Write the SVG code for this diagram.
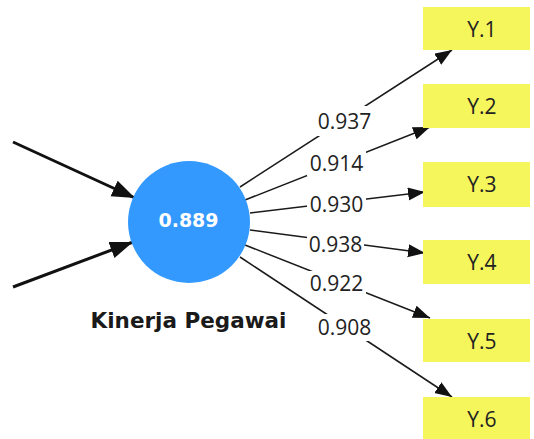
<svg xmlns="http://www.w3.org/2000/svg" width="534" height="439" viewBox="0 0 534 439">
  <style>
    .ind rect { fill: #f5f55c; }
    .ind text { font-family: "Open Sans", "Noto Sans", sans-serif; font-size: 21px; fill: #222; text-anchor: middle; }
    .load rect { fill: #ffffff; }
    .load text { font-family: "Open Sans", "Noto Sans", sans-serif; font-size: 21px; fill: #222; text-anchor: middle; }
    .out { stroke: #1a1a1a; stroke-width: 1.5; fill: none; marker-end: url(#headS); }
    .in { stroke: #111; stroke-width: 3; fill: none; marker-end: url(#headL); }
  </style>
  <defs>
    <marker id="headS" markerUnits="userSpaceOnUse" markerWidth="18" markerHeight="14" refX="17" refY="6.5" orient="auto">
      <path d="M0,0 L17,6.5 L0,13 z" fill="#111"/>
    </marker>
    <marker id="headL" markerUnits="userSpaceOnUse" markerWidth="24" markerHeight="18" refX="23" refY="8.5" orient="auto">
      <path d="M0,0 L23,8.5 L0,17 z" fill="#111"/>
    </marker>
  </defs>
  <rect width="534" height="439" fill="#ffffff"/>

  <!-- connectors -->
  <g id="connectors">
    <line class="in" x1="13" y1="142" x2="135" y2="198"/>
    <line class="in" x1="13" y1="287" x2="133" y2="242"/>
    <line class="out" x1="240" y1="187" x2="452" y2="50"/>
    <line class="out" x1="245" y1="200" x2="430" y2="127"/>
    <line class="out" x1="250" y1="213" x2="425" y2="192"/>
    <line class="out" x1="250" y1="230" x2="425" y2="253"/>
    <line class="out" x1="245" y1="245" x2="430" y2="318"/>
    <line class="out" x1="240" y1="257" x2="452" y2="397"/>
  </g>

  <!-- loading labels -->
  <g id="loadings" class="load">
    <rect x="316" y="106" width="58" height="30"/>
    <text x="344.5" y="129">0.937</text>
    <rect x="307" y="150" width="59" height="26"/>
    <text x="336.5" y="171">0.914</text>
    <rect x="307" y="192" width="59" height="25"/>
    <text x="336.5" y="212">0.930</text>
    <rect x="307" y="232" width="57" height="25"/>
    <text x="335.5" y="252">0.938</text>
    <rect x="307" y="271" width="59" height="25"/>
    <text x="336.5" y="291">0.922</text>
    <rect x="316" y="314" width="58" height="27"/>
    <text x="344.5" y="335">0.908</text>
  </g>

  <!-- latent construct -->
  <g id="kinerja">
    <circle cx="189" cy="222" r="61" fill="#3399ff"/>
    <text x="188.5" y="227" font-family="'DejaVu Sans', Verdana, sans-serif" font-size="19" font-weight="bold" fill="#ffffff" text-anchor="middle">0.889</text>
    <text x="188.5" y="328" font-family="'DejaVu Sans', Verdana, sans-serif" font-size="21.5" font-weight="bold" fill="#1a1a1a" text-anchor="middle">Kinerja Pegawai</text>
  </g>

  <!-- indicators -->
  <g id="y1" class="ind"><rect x="423" y="7" width="107" height="43"/><text x="482" y="37">Y.1</text></g>
  <g id="y2" class="ind"><rect x="423" y="84" width="107" height="44"/><text x="482" y="114">Y.2</text></g>
  <g id="y3" class="ind"><rect x="423" y="162" width="107" height="45"/><text x="482" y="192">Y.3</text></g>
  <g id="y4" class="ind"><rect x="423" y="240" width="107" height="44"/><text x="482" y="270">Y.4</text></g>
  <g id="y5" class="ind"><rect x="423" y="319" width="107" height="43"/><text x="482" y="349">Y.5</text></g>
  <g id="y6" class="ind"><rect x="423" y="397" width="107" height="44"/><text x="482" y="427">Y.6</text></g>
</svg>
